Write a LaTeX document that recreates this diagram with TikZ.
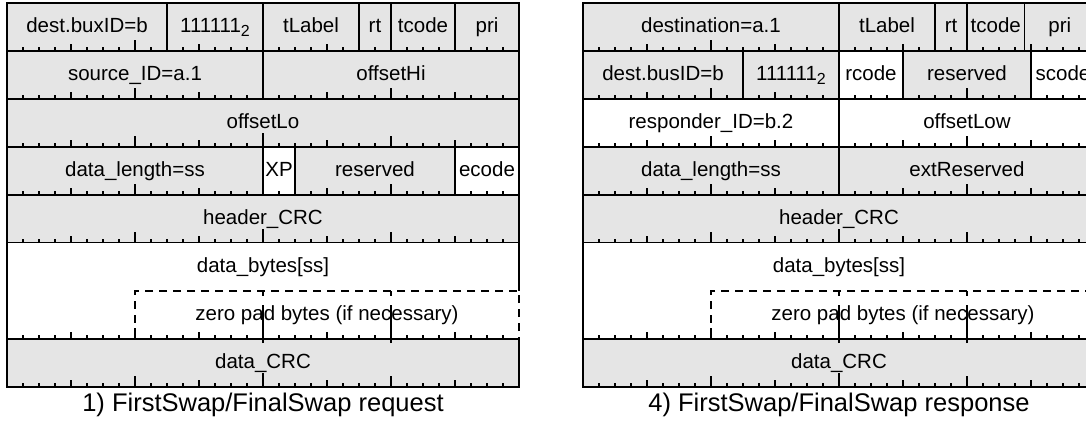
\documentclass[tikz,border=0pt]{standalone}
\usepackage{fontspec}
\setmainfont{Liberation Sans}
\usepackage{tikz}
\usetikzlibrary{calc}
\definecolor{fieldgray}{gray}{0.9}
\newcommand{\binsub}{\raisebox{-4pt}{\fontsize{16}{18}\selectfont 2}}

\begin{document}
\begin{tikzpicture}[x=1pt, y=-1pt,
    field/.style={rectangle, draw=black, line width=1.6pt, fill=fieldgray, minimum height=48pt, inner sep=0pt, outer sep=0pt, text height=15pt, text depth=5pt, font=\fontsize{20.5}{24}\selectfont},
    whitefield/.style={field, fill=white},
    padbox/.style={field, fill=white, dash pattern=on 8pt off 6pt},
    figtitle/.style={inner sep=0pt, anchor=base, font=\fontsize{25.5}{30}\selectfont},
    bittick/.style={line width=1.1pt},
    frameline/.style={line width=1.6pt}]

    \useasboundingbox (0,0) rectangle (1086,423);
    \clip (0,0) rectangle (1086,423);

    \coordinate (L) at (7,3);
    \coordinate (R) at (583,3);

    \node[field, minimum width=160pt] (dstL) at ($(L) + (80, 24)$) {dest.buxID=b};
    \node[field, minimum width=96pt] (onesL) at ($(L) + (208, 24)$) {111111\binsub};
    \node[field, minimum width=96pt] (tlabelL) at ($(L) + (304, 24)$) {tLabel};
    \node[field, minimum width=32pt] (rtL) at ($(L) + (368, 24)$) {rt};
    \node[field, minimum width=64pt] (tcodeL) at ($(L) + (416, 24)$) {tcode};
    \node[field, minimum width=64pt] (priL) at ($(L) + (480, 24)$) {pri};

    \node[field, minimum width=256pt] (srcL) at ($(L) + (128, 72)$) {source\_ID=a.1};
    \node[field, minimum width=256pt] (offhiL) at ($(L) + (384, 72)$) {offsetHi};

    \node[field, minimum width=512pt] (offloL) at ($(L) + (256, 120)$) {offsetLo};

    \node[field, minimum width=256pt] (lenL) at ($(L) + (128, 168)$) {data\_length=ss};
    \node[whitefield, minimum width=32pt] (xpL) at ($(L) + (272, 168)$) {XP};
    \node[field, minimum width=160pt] (resL) at ($(L) + (368, 168)$) {reserved};
    \node[whitefield, minimum width=64pt] (ecodeL) at ($(L) + (480, 168)$) {ecode};

    \node[field, minimum width=512pt] (hcrcL) at ($(L) + (256, 216)$) {header\_CRC};

    \node[whitefield, draw=none, minimum width=512pt] (dataL) at ($(L) + (256, 264)$) {data\_bytes[ss]};
    \node[padbox, minimum width=384pt] (padL) at ($(L) + (320, 312)$) {zero pad bytes (if necessary)};

    \node[field, minimum width=512pt] (dcrcL) at ($(L) + (256, 360)$) {data\_CRC};

    \draw[frameline] (dataL.north west) -- (dcrcL.north west);
    \draw[frameline] (dataL.north east) -- (dataL.south east);

    \node[figtitle] (capL) at ($(L) + (256, 408)$) {1) FirstSwap/FinalSwap request};

    \node[field, minimum width=256pt] (destR) at ($(R) + (128, 24)$) {destination=a.1};
    \node[field, minimum width=96pt] (tlabelR) at ($(R) + (304, 24)$) {tLabel};
    \node[field, minimum width=32pt] (rtR) at ($(R) + (368, 24)$) {rt};
    \node[field, minimum width=57.6pt] (tcodeR) at ($(R) + (412.8, 24)$) {tcode};
    \node[field, minimum width=70.4pt] (priR) at ($(R) + (476.8, 24)$) {pri};

    \node[field, minimum width=160pt] (dbusR) at ($(R) + (80, 72)$) {dest.busID=b};
    \node[field, minimum width=96pt] (onesR) at ($(R) + (208, 72)$) {111111\binsub};
    \node[whitefield, minimum width=64pt] (rcodeR) at ($(R) + (288, 72)$) {rcode};
    \node[field, minimum width=128pt] (resR) at ($(R) + (384, 72)$) {reserved};
    \node[whitefield, minimum width=64pt] (scodeR) at ($(R) + (480, 72)$) {scode};

    \node[whitefield, minimum width=256pt] (respR) at ($(R) + (128, 120)$) {responder\_ID=b.2};
    \node[whitefield, minimum width=256pt] (offlowR) at ($(R) + (384, 120)$) {offsetLow};

    \node[field, minimum width=256pt] (lenR) at ($(R) + (128, 168)$) {data\_length=ss};
    \node[field, minimum width=256pt] (extR) at ($(R) + (384, 168)$) {extReserved};

    \node[field, minimum width=512pt] (hcrcR) at ($(R) + (256, 216)$) {header\_CRC};

    \node[whitefield, draw=none, minimum width=512pt] (dataR) at ($(R) + (256, 264)$) {data\_bytes[ss]};
    \node[padbox, minimum width=384pt] (padR) at ($(R) + (320, 312)$) {zero pad bytes (if necessary)};

    \node[field, minimum width=512pt] (dcrcR) at ($(R) + (256, 360)$) {data\_CRC};

    \draw[frameline] (dataR.north west) -- (dcrcR.north west);
    \draw[frameline] (dataR.north east) -- (dataR.south east);

    \node[figtitle] (capR) at ($(R) + (256, 408)$) {4) FirstSwap/FinalSwap response};

    \foreach \x in {7,583} {
        \foreach \r in {1,2,3,4,5,7,8} {
            \foreach \b in {1,...,31} {
                \pgfmathsetmacro\h{mod(\b,16)==0 ? 14 : (mod(\b,8)==0 ? 11 : (mod(\b,4)==0 ? 7 : 4))}
                \draw[bittick] (\x+16*\b, 3+48*\r) -- ++(0,-\h);
            }
        }
        \foreach \b in {16,24} {
            \draw[bittick] (\x+16*\b, 3+48*7+4) -- ++(0,-38);
            \draw[bittick] (\x+16*\b, 3+48*6) -- ++(0,5);
        }
    }

\end{tikzpicture}
\end{document}
